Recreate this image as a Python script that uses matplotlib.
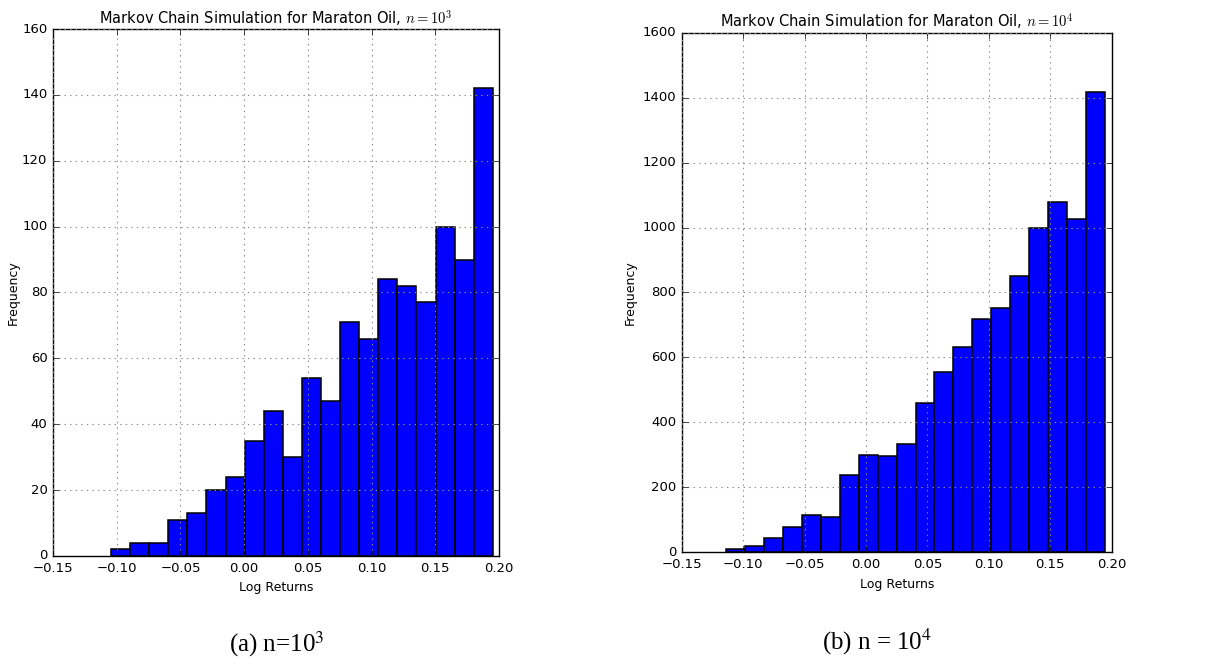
import numpy as np
import matplotlib
matplotlib.use("Agg")
import matplotlib.pyplot as plt

plt.style.use("classic")
plt.rcParams["mathtext.fontset"] = "cm"
plt.rcParams["font.family"] = ["DejaVu Sans"]

# histogram counts (20 bins each)
counts_1e3 = [2, 4, 4, 11, 13, 20, 24, 35, 44, 30,
              54, 47, 71, 66, 84, 82, 77, 100, 90, 142]
range_1e3 = (-0.1045, 0.1951)

counts_1e4 = [11, 18, 44, 79, 115, 108, 239, 300, 296, 333,
              460, 554, 631, 718, 753, 850, 1000, 1080, 1027, 1416]
range_1e4 = (-0.114, 0.1946)

titles = [r"Markov Chain Simulation for Maraton Oil, $n=10^3$",
          r"Markov Chain Simulation for Maraton Oil, $n=10^4$"]
captions = [r"(a) n=10$^3$", r"(b) n = 10$^4$"]
xticks = [-0.15, -0.10, -0.05, 0.00, 0.05, 0.10, 0.15, 0.20]

fig = plt.figure(figsize=(12.21, 6.64), dpi=100, facecolor="white")
ax1 = fig.add_axes([0.0434, 0.1627, 0.3653, 0.7936])
ax2 = fig.add_axes([0.5583, 0.1682, 0.3522, 0.7826])

panels = [(ax1, counts_1e3, range_1e3, 160, 20, 2),
          (ax2, counts_1e4, range_1e4, 1600, 200, 4)]

for i, (ax, counts, rng, ymax, ystep, pad) in enumerate(panels):
    edges = np.linspace(rng[0], rng[1], len(counts) + 1)
    ax.hist(edges[:-1], bins=edges, weights=counts,
            facecolor="#0000ff", edgecolor="black", linewidth=1.1)
    ax.set_xlim(-0.15, 0.20)
    ax.set_ylim(0, ymax)
    ax.set_xticks(xticks)
    ax.set_yticks(np.arange(0, ymax + 1, ystep))
    ax.tick_params(labelsize=9.5)
    ax.grid(True, color="0.55", linestyle=":", linewidth=0.8)
    ax.set_axisbelow(False)
    ax.set_title(titles[i], fontsize=10.5, pad=4)
    ax.set_xlabel("Log Returns", fontsize=9)
    ax.set_ylabel("Frequency", fontsize=9, labelpad=pad)

fig.text(0.227, 0.008, captions[0], ha="center", va="bottom",
         fontsize=18, family="Liberation Serif", math_fontfamily="stix")
fig.text(0.718, 0.010, captions[1], ha="center", va="bottom",
         fontsize=18, family="Liberation Serif", math_fontfamily="stix")

fig.savefig("out.png", dpi=100, facecolor="white")
